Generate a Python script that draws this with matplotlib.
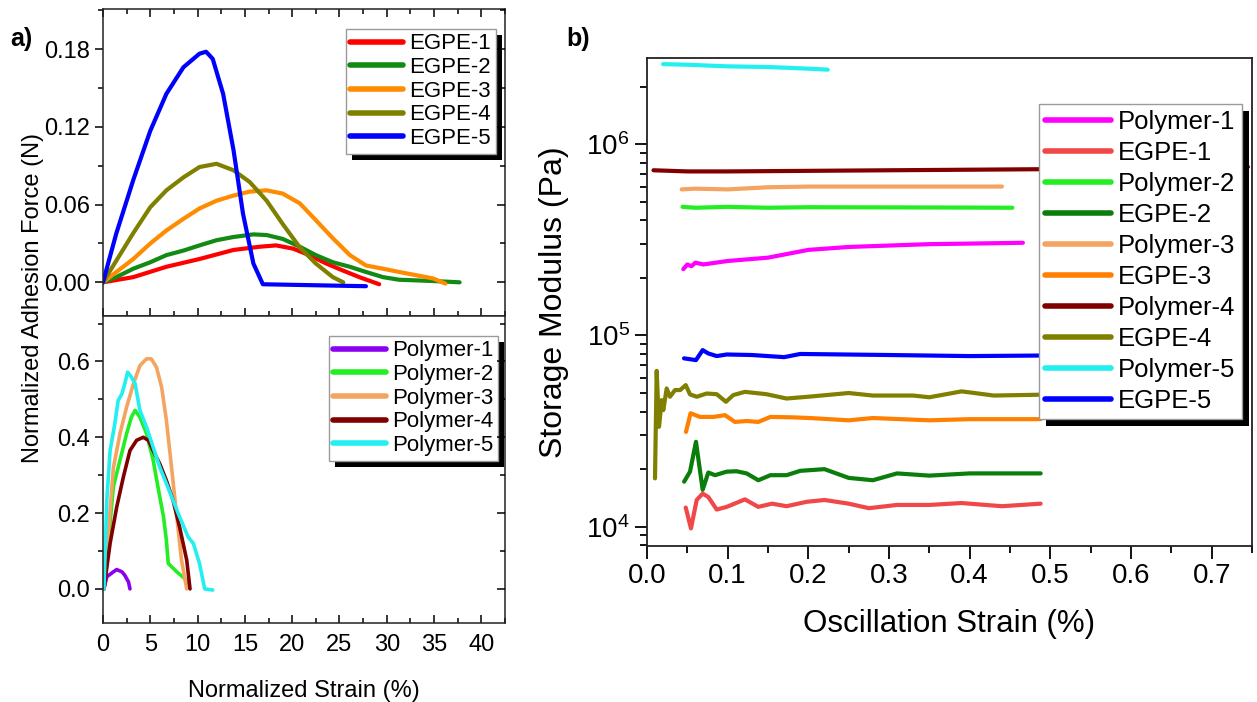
import matplotlib
matplotlib.use("Agg")
import matplotlib.pyplot as plt
from matplotlib.patches import Rectangle
from matplotlib.transforms import IdentityTransform
from matplotlib.ticker import MultipleLocator, FormatStrFormatter, LogLocator, NullFormatter

plt.rcParams['font.family'] = ['Liberation Sans', 'DejaVu Sans']
plt.rcParams['mathtext.fontset'] = 'custom'
plt.rcParams['mathtext.rm'] = 'Liberation Sans'
plt.rcParams['mathtext.it'] = 'Liberation Sans:italic'
plt.rcParams['mathtext.bf'] = 'Liberation Sans:bold'

# ---------------- (a) top: EGPE adhesion curves ----------------
egpe1_x = [0, 3.2, 6.7, 10.2, 13.8, 16.6, 18.3, 20.1, 21.8, 23.6, 25.4, 27.1, 29.2]
egpe1_y = [0, 0.004, 0.012, 0.018, 0.025, 0.0275, 0.0285, 0.026, 0.021, 0.0145, 0.009, 0.004, -0.0015]
egpe2_x = [0, 1.4, 3.2, 5.0, 6.7, 8.5, 10.2, 12.0, 13.8, 15.9, 17.3, 19.0, 20.8, 22.5, 24.3, 26.1, 27.8, 29.6, 31.3, 34.9, 37.7]
egpe2_y = [0, 0.004, 0.0105, 0.0155, 0.021, 0.0245, 0.0285, 0.0325, 0.035, 0.037, 0.0365, 0.0335, 0.0275, 0.021, 0.0155, 0.012, 0.008, 0.004, 0.002, 0.001, 0.0]
egpe3_x = [0, 3.2, 5.0, 6.7, 8.5, 10.2, 12.0, 13.8, 15.5, 17.3, 19.0, 20.8, 22.5, 24.3, 26.1, 27.8, 29.6, 31.3, 33.1, 34.9, 36.2]
egpe3_y = [0, 0.018, 0.030, 0.040, 0.049, 0.057, 0.063, 0.067, 0.070, 0.071, 0.0685, 0.061, 0.048, 0.034, 0.021, 0.013, 0.0105, 0.008, 0.0055, 0.003, -0.001]
egpe4_x = [0, 3.2, 5.0, 6.7, 8.5, 10.2, 12.0, 13.8, 15.5, 17.3, 19.0, 20.8, 22.5, 24.3, 25.4]
egpe4_y = [0, 0.038, 0.058, 0.071, 0.081, 0.089, 0.0915, 0.0865, 0.0775, 0.063, 0.045, 0.027, 0.0145, 0.004, 0.0]
egpe5_x = [0, 1.4, 3.2, 5.0, 6.7, 8.5, 10.2, 10.9, 11.6, 12.7, 13.8, 14.8, 15.9, 16.9, 27.8]
egpe5_y = [0, 0.0376, 0.079, 0.117, 0.1455, 0.166, 0.1765, 0.178, 0.1725, 0.1455, 0.102, 0.053, 0.0145, -0.0015, -0.003]

# ---------------- (a) bottom: polymer adhesion curves ----------------
poly1_x = [0.1, 0.4, 1.1, 1.45, 2.0, 2.3, 2.7, 2.85]
poly1_y = [0.0, 0.032, 0.045, 0.051, 0.045, 0.036, 0.018, 0.0]
poly2_x = [0.1, 1.1, 1.8, 2.5, 3.0, 3.4, 3.9, 4.6, 5.3, 5.8, 6.4, 6.7, 6.9, 7.8, 8.65, 9.0]
poly2_y = [0.0, 0.27, 0.34, 0.41, 0.453, 0.471, 0.453, 0.41, 0.34, 0.27, 0.19, 0.128, 0.067, 0.045, 0.027, 0.005]
poly3_x = [0.1, 1.1, 1.8, 2.5, 3.2, 3.9, 4.6, 5.1, 5.65, 6.2, 6.7, 7.25, 7.8, 8.3, 8.85]
poly3_y = [0.0, 0.32, 0.41, 0.48, 0.54, 0.589, 0.607, 0.607, 0.585, 0.532, 0.445, 0.32, 0.19, 0.076, 0.0]
poly4_x = [0.1, 0.75, 1.45, 2.15, 2.85, 3.55, 4.25, 4.8, 5.3, 6.0, 6.7, 7.4, 8.1, 8.85, 9.2]
poly4_y = [0.0, 0.12, 0.216, 0.295, 0.365, 0.392, 0.40, 0.392, 0.365, 0.33, 0.286, 0.234, 0.163, 0.076, 0.0]
poly5_x = [0.1, 0.4, 0.75, 1.25, 1.6, 2.0, 2.3, 2.6, 3.0, 3.4, 3.9, 4.6, 5.3, 6.0, 6.7, 7.4, 8.1, 9.0, 9.55, 10.2, 10.75, 11.6]
poly5_y = [0.0, 0.234, 0.365, 0.436, 0.497, 0.515, 0.541, 0.572, 0.559, 0.541, 0.471, 0.427, 0.374, 0.321, 0.278, 0.234, 0.19, 0.137, 0.12, 0.067, 0.0, -0.003]

# ---------------- (b) storage modulus ----------------
sm_p1_x = [0.045, 0.05, 0.055, 0.06, 0.07, 0.1, 0.15, 0.2, 0.25, 0.3, 0.35, 0.4, 0.466]
sm_p1_y = [2.22e5, 2.35e5, 2.3e5, 2.4e5, 2.35e5, 2.45e5, 2.55e5, 2.8e5, 2.9e5, 2.95e5, 3.0e5, 3.02e5, 3.05e5]
sm_e1_x = [0.048, 0.0545, 0.0616, 0.069, 0.076, 0.0864, 0.0988, 0.1214, 0.138, 0.155, 0.173, 0.198, 0.22, 0.25, 0.275, 0.31, 0.35, 0.39, 0.44, 0.488]
sm_e1_y = [1.26e4, 9.8e3, 1.38e4, 1.49e4, 1.43e4, 1.23e4, 1.27e4, 1.39e4, 1.27e4, 1.32e4, 1.28e4, 1.35e4, 1.38e4, 1.32e4, 1.25e4, 1.3e4, 1.3e4, 1.33e4, 1.28e4, 1.32e4]
sm_p2_x = [0.044, 0.06, 0.1, 0.15, 0.2, 0.3, 0.4, 0.453]
sm_p2_y = [4.7e5, 4.65e5, 4.7e5, 4.65e5, 4.68e5, 4.67e5, 4.66e5, 4.65e5]
sm_e2_x = [0.046, 0.0533, 0.0607, 0.069, 0.076, 0.0843, 0.0988, 0.111, 0.1235, 0.138, 0.153, 0.173, 0.19, 0.22, 0.25, 0.28, 0.31, 0.35, 0.4, 0.488]
sm_e2_y = [1.72e4, 1.94e4, 2.78e4, 1.56e4, 1.92e4, 1.86e4, 1.94e4, 1.95e4, 1.9e4, 1.75e4, 1.86e4, 1.86e4, 1.96e4, 2.0e4, 1.8e4, 1.75e4, 1.9e4, 1.85e4, 1.9e4, 1.9e4]
sm_p3_x = [0.043, 0.06, 0.1, 0.15, 0.2, 0.3, 0.4, 0.44]
sm_p3_y = [5.8e5, 5.85e5, 5.8e5, 5.95e5, 6.0e5, 6.0e5, 6.0e5, 6.0e5]
sm_e3_x = [0.0483, 0.054, 0.0657, 0.0822, 0.0967, 0.109, 0.1235, 0.138, 0.153, 0.181, 0.202, 0.25, 0.28, 0.35, 0.4, 0.488]
sm_e3_y = [3.13e4, 3.92e4, 3.75e4, 3.75e4, 3.83e4, 3.53e4, 3.57e4, 3.53e4, 3.75e4, 3.73e4, 3.7e4, 3.6e4, 3.7e4, 3.6e4, 3.65e4, 3.65e4]
sm_p4_x = [0.008, 0.05, 0.1, 0.2, 0.3, 0.4, 0.5, 0.6, 0.745]
sm_p4_y = [7.3e5, 7.2e5, 7.2e5, 7.25e5, 7.3e5, 7.35e5, 7.4e5, 7.5e5, 7.6e5]
sm_e4_x = [0.0099, 0.012, 0.0149, 0.0182, 0.0202, 0.0244, 0.0285, 0.0347, 0.041, 0.048, 0.0533, 0.0616, 0.074, 0.0864, 0.0979, 0.107, 0.1214, 0.148, 0.173, 0.202, 0.25, 0.28, 0.33, 0.35, 0.39, 0.43, 0.488]
sm_e4_y = [1.79e4, 6.53e4, 3.33e4, 4.59e4, 4.07e4, 5.28e4, 4.78e4, 5.18e4, 5.18e4, 5.5e4, 4.92e4, 4.78e4, 4.97e4, 4.93e4, 4.5e4, 4.88e4, 5.07e4, 4.93e4, 4.68e4, 4.79e4, 5.0e4, 4.85e4, 4.85e4, 4.75e4, 5.1e4, 4.85e4, 4.9e4]
sm_p5_x = [0.02, 0.05, 0.1, 0.15, 0.2, 0.224]
sm_p5_y = [2.62e6, 2.6e6, 2.55e6, 2.53e6, 2.48e6, 2.45e6]
sm_e5_x = [0.0459, 0.0607, 0.069, 0.076, 0.0864, 0.0988, 0.13, 0.17, 0.19, 0.3, 0.4, 0.488]
sm_e5_y = [7.59e4, 7.43e4, 8.38e4, 8.05e4, 7.8e4, 7.95e4, 7.9e4, 7.7e4, 8.0e4, 7.9e4, 7.8e4, 7.85e4]

W, H = 1257, 702
fig = plt.figure(figsize=(W / 100, H / 100), dpi=100)


def axbox(x0, y0, x1, y1):
    return [x0 / W, 1 - y1 / H, (x1 - x0) / W, (y1 - y0) / H]


LFS = 17
LEGFS = 16
ax_t = fig.add_axes(axbox(103, 9, 505, 316))
ax_b = fig.add_axes(axbox(103, 316, 505, 623))

top_series = [(egpe1_x, egpe1_y, '#FF0000', 'EGPE-1'),
              (egpe2_x, egpe2_y, '#138A13', 'EGPE-2'),
              (egpe3_x, egpe3_y, '#FF8C00', 'EGPE-3'),
              (egpe4_x, egpe4_y, '#808000', 'EGPE-4'),
              (egpe5_x, egpe5_y, '#0000FF', 'EGPE-5')]
for x, y, c, lab in top_series:
    ax_t.plot(x, y, color=c, lw=3, label=lab, solid_capstyle='round', solid_joinstyle='round')

bot_series = [(poly1_x, poly1_y, '#8A00F0', 'Polymer-1'),
              (poly2_x, poly2_y, '#22EE22', 'Polymer-2'),
              (poly3_x, poly3_y, '#F4A460', 'Polymer-3'),
              (poly4_x, poly4_y, '#800000', 'Polymer-4'),
              (poly5_x, poly5_y, '#22F0F0', 'Polymer-5')]
for x, y, c, lab in bot_series:
    ax_b.plot(x, y, color=c, lw=2.6, label=lab, solid_capstyle='round', solid_joinstyle='round')

ax_t.set_xlim(0, 42.5)
ax_b.set_xlim(0, 42.5)
ax_t.set_ylim(-0.026, 0.211)
ax_b.set_ylim(-0.09, 0.72)

for ax in (ax_t, ax_b):
    ax.xaxis.set_major_locator(MultipleLocator(5))
    ax.xaxis.set_minor_locator(MultipleLocator(2.5))
    for s in ax.spines.values():
        s.set_linewidth(1.1)
        s.set_color('#222222')
ax_t.yaxis.set_major_locator(MultipleLocator(0.06))
ax_t.yaxis.set_minor_locator(MultipleLocator(0.03))
ax_t.yaxis.set_major_formatter(FormatStrFormatter('%.2f'))
ax_b.yaxis.set_major_locator(MultipleLocator(0.2))
ax_b.yaxis.set_minor_locator(MultipleLocator(0.1))
ax_b.yaxis.set_major_formatter(FormatStrFormatter('%.1f'))

ax_t.tick_params(axis='x', which='both', direction='in', top=True, bottom=True, labelbottom=False)
ax_b.tick_params(axis='x', which='both', direction='in', top=False, bottom=True)
for ax in (ax_t, ax_b):
    ax.tick_params(axis='x', which='major', length=6, width=1.1, labelsize=LFS, pad=8)
    ax.tick_params(axis='x', which='minor', length=3.5, width=1.1)
    ax.tick_params(axis='y', which='both', direction='out', left=True, right=False, labelsize=LFS, width=1.1)
    ax.tick_params(axis='y', which='major', length=6)
    ax.tick_params(axis='y', which='minor', length=3.5)
    tw = ax.twinx()
    tw.set_ylim(ax.get_ylim())
    tw.yaxis.set_major_locator(ax.yaxis.get_major_locator())
    tw.yaxis.set_minor_locator(ax.yaxis.get_minor_locator())
    tw.tick_params(axis='y', which='both', direction='in', labelright=False, width=1.1)
    tw.tick_params(axis='y', which='major', length=6)
    tw.tick_params(axis='y', which='minor', length=3.5)
    for s in tw.spines.values():
        s.set_visible(False)

ax_b.set_xlabel('Normalized Strain (%)', fontsize=LFS, labelpad=17)
fig.text(33 / W, 1 - 298 / H, 'Normalized Adhesion Force (N)', rotation=90,
         fontsize=LFS, ha='center', va='center')
fig.text(10 / W, 1 - 39 / H, 'a)', fontsize=18, fontweight='bold', ha='left', va='center')

leg_kw = dict(frameon=True, fancybox=False, framealpha=1, borderaxespad=0,
              bbox_transform=fig.transFigure, loc='upper left')
leg_t = ax_t.legend(fontsize=LEGFS, bbox_to_anchor=(346 / W, 1 - 29 / H), handlelength=2.35,
                    handletextpad=0.3, labelspacing=0.12, borderpad=0.2, **leg_kw)
leg_b = ax_b.legend(fontsize=LEGFS, bbox_to_anchor=(329 / W, 1 - 336 / H), handlelength=2.35,
                    handletextpad=0.3, labelspacing=0.12, borderpad=0.2, **leg_kw)

# ---------------- (b) ----------------
RFS = 20
ax_r = fig.add_axes(axbox(647, 57.7, 1252, 546))
r_series = [(sm_p1_x, sm_p1_y, '#FF00FF', 'Polymer-1'),
            (sm_e1_x, sm_e1_y, '#F04848', 'EGPE-1'),
            (sm_p2_x, sm_p2_y, '#22EE22', 'Polymer-2'),
            (sm_e2_x, sm_e2_y, '#0B7D0B', 'EGPE-2'),
            (sm_p3_x, sm_p3_y, '#F4A460', 'Polymer-3'),
            (sm_e3_x, sm_e3_y, '#FF8000', 'EGPE-3'),
            (sm_p4_x, sm_p4_y, '#800000', 'Polymer-4'),
            (sm_e4_x, sm_e4_y, '#808000', 'EGPE-4'),
            (sm_p5_x, sm_p5_y, '#22F0F0', 'Polymer-5'),
            (sm_e5_x, sm_e5_y, '#0000FF', 'EGPE-5')]
for x, y, c, lab in r_series:
    ax_r.plot(x, y, color=c, lw=3, label=lab, solid_capstyle='round', solid_joinstyle='round')
ax_r.set_yscale('log')
ax_r.set_xlim(0, 0.75)
ax_r.set_ylim(7.93e3, 2.83e6)
ax_r.xaxis.set_major_locator(MultipleLocator(0.1))
ax_r.xaxis.set_minor_locator(MultipleLocator(0.05))
ax_r.xaxis.set_major_formatter(FormatStrFormatter('%.1f'))
ax_r.yaxis.set_major_locator(LogLocator(base=10, numticks=10))
ax_r.yaxis.set_minor_locator(LogLocator(base=10, subs=range(2, 10), numticks=20))
ax_r.yaxis.set_minor_formatter(NullFormatter())
ax_r.tick_params(axis='both', which='both', direction='out', top=False, right=False, width=1.3, labelsize=RFS)
ax_r.tick_params(axis='both', which='major', length=9)
ax_r.tick_params(axis='both', which='minor', length=5)
for s in ax_r.spines.values():
    s.set_linewidth(1.3)
    s.set_color('#222222')
ax_r.set_xlabel('Oscillation Strain (%)', fontsize=22.5, labelpad=14)
ax_r.set_ylabel('Storage Modulus (Pa)', fontsize=23, labelpad=12)
fig.text(566 / W, 1 - 39 / H, 'b)', fontsize=18, fontweight='bold', ha='left', va='center')

leg_r = ax_r.legend(fontsize=18.5, bbox_to_anchor=(1039 / W, 1 - 104 / H), handlelength=2.55,
                    handletextpad=0.28, labelspacing=0.27, borderpad=0.25, **leg_kw)

for lg in (leg_t, leg_b, leg_r):
    fr = lg.get_frame()
    fr.set_edgecolor('#9a9a9a')
    fr.set_linewidth(1.0)
    for ln in lg.get_lines():
        ln.set_linewidth(4)

fig.canvas.draw()
for lg, ax, d in ((leg_t, ax_t, 6), (leg_b, ax_b, 6), (leg_r, ax_r, 7)):
    bb = lg.get_window_extent()
    rect = Rectangle((bb.x0 + d, bb.y0 - d), bb.width, bb.height, transform=IdentityTransform(),
                     facecolor='black', edgecolor='none', zorder=4.9, clip_on=False)
    ax.add_artist(rect)
    lg.set_zorder(5)

fig.savefig('out.png', dpi=100)
